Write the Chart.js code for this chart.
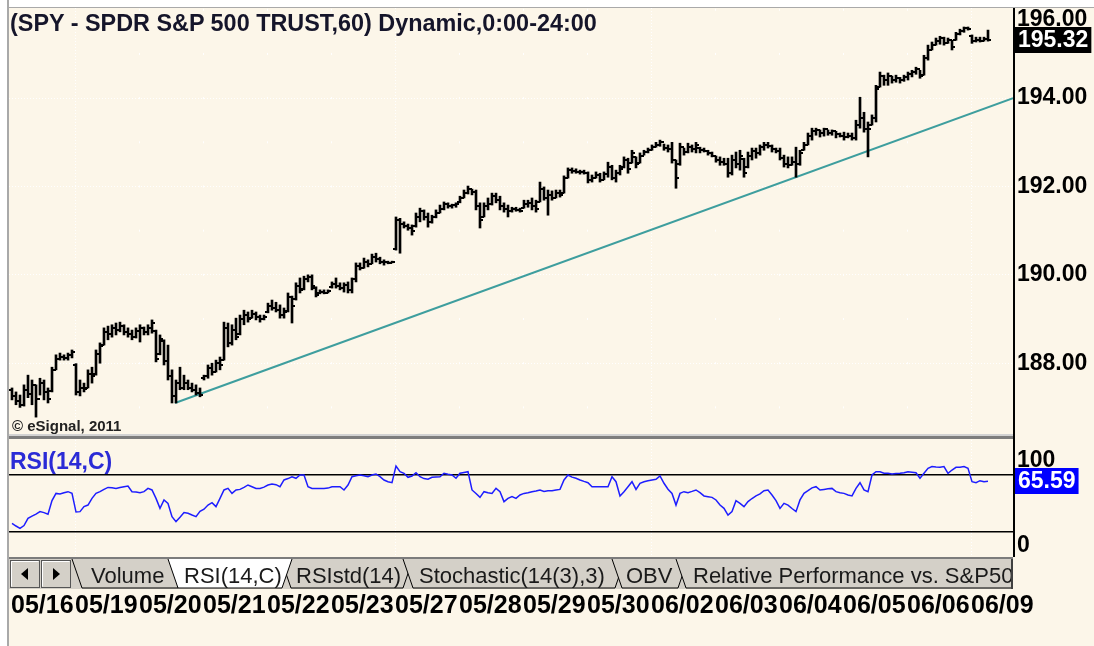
<!DOCTYPE html>
<html>
<head>
<meta charset="utf-8">
<title>SPY 60 min with RSI</title>
<script src="https://cdn.jsdelivr.net/npm/chart.js"></script>
<style>
	html, body { margin: 0; padding: 0; }
	body { width: 1094px; height: 646px; position: relative; overflow: hidden; background: #fcf6e9;
		font-family: "Liberation Sans", Arial, sans-serif; }
	canvas { position: absolute; left: 0; }
	#priceChart { top: 0; }
	#rsiChart { top: 440px; }
	.topBand { position: absolute; left: 0; top: 0; width: 1094px; height: 7px; background: #fff; border-bottom: 1px solid #a9a9a9; }
	.leftEdge { position: absolute; left: 0; top: 0; width: 7px; height: 646px; background: #fff; border-right: 2px solid #a9a9a9; }
	.axisLine { position: absolute; left: 1013px; top: 8px; width: 2px; height: 549px; background: #000; }
	.paneSplit { position: absolute; left: 9px; top: 434px; width: 1004px; height: 2px; background: #d2d2d2; border-bottom: 3px solid #7d7d7d; }
	.title { position: absolute; left: 10px; top: 11px; line-height: 24px; font-size: 23.4px; font-weight: bold; color: #15152a; white-space: nowrap; }
	.studyName { position: absolute; left: 10px; top: 449px; line-height: 24px; font-size: 23px; font-weight: bold; color: #2b2bd6; }
	.copyright { position: absolute; left: 12px; top: 418px; line-height: 16px; font-size: 15px; font-weight: bold; color: #222; }
	.tabs { position: absolute; left: 0; top: 557px; }
</style>
</head>
<body>
<canvas id="priceChart" width="1094" height="440"></canvas>
<canvas id="rsiChart" width="1094" height="206"></canvas>

<div class="topBand"></div>
<div class="leftEdge"></div>
<div class="paneSplit"></div>
<div class="axisLine"></div>
<div class="title">(SPY - SPDR S&amp;P 500 TRUST,60) Dynamic,0:00-24:00</div>
<div class="copyright">© eSignal, 2011</div>
<div class="studyName">RSI(14,C)</div>

<svg class="tabs" width="1016" height="36" viewBox="0 0 1016 36">
	<defs><clipPath id="stripClip"><rect x="9" y="0" width="1003" height="36"/></clipPath></defs>
	<rect x="9" y="0" width="1004" height="2" fill="#7c7c7c"/>
	<rect x="9" y="2" width="1004" height="30" fill="#d4d0c8"/>
	<!-- scroll buttons -->
	<rect x="10.5" y="3.5" width="29" height="27" fill="#d4d0c8" stroke="#555"/>
	<path d="M11.5 29.5 V4.5 H38.5" stroke="#fff" fill="none"/>
	<polygon points="21,17 28,11 28,23" fill="#000"/>
	<rect x="41.5" y="3.5" width="29" height="27" fill="#d4d0c8" stroke="#555"/>
	<path d="M42.5 29.5 V4.5 H69.5" stroke="#fff" fill="none"/>
	<polygon points="60,17 53,11 53,23" fill="#000"/>
	<g id="tabGroup" clip-path="url(#stripClip)" font-family="Liberation Sans, Arial, sans-serif" font-size="22" fill="#1a1a1a"></g>
	<rect x="1011" y="2" width="2" height="30" fill="#404040"/>
</svg>

<script>
// ---------- data (60 min bars, 16 per session) ---------- //
const dayLabels = ["05/16", "05/19", "05/20", "05/21", "05/22", "05/23", "05/27", "05/28",
	"05/29", "05/30", "06/02", "06/03", "06/04", "06/05", "06/06", "06/09"];
const dayStart = [0, 16, 32, 48, 64, 80, 96, 112, 128, 144, 160, 176, 192, 208, 224, 240];
const weekStarts = [16, 96, 160, 240];

const opens = [
	187.40, 187.25, 187.15, 187.05, 187.40, 187.30, 187.50, 187.20, 187.55, 187.35, 187.38, 187.85, 188.10, 188.15, 188.12, 188.18,
	187.95, 187.35, 187.45, 187.45, 187.75, 187.75, 188.20, 188.42, 188.70, 188.65, 188.80, 188.75, 188.85, 188.70, 188.65, 188.60,
	188.72, 188.80, 188.70, 188.80, 188.72, 188.20, 188.50, 188.05, 187.70, 187.25, 187.55, 187.45, 187.55, 187.45, 187.40, 187.32,
	187.66, 187.70, 187.90, 187.80, 188.00, 188.08, 188.80, 188.45, 188.75, 188.65, 189.00, 189.10, 189.03, 189.12, 189.05, 189.00,
	189.15, 189.30, 189.25, 189.20, 189.10, 189.18, 189.50, 189.45, 189.75, 189.68, 189.90, 189.95, 189.70, 189.58, 189.62, 189.60,
	189.72, 189.80, 189.75, 189.70, 189.78, 189.65, 189.90, 190.20, 190.15, 190.30, 190.25, 190.40, 190.35, 190.30, 190.28, 190.27,
	190.58, 191.25, 191.15, 191.10, 191.05, 191.10, 191.30, 191.45, 191.30, 191.20, 191.30, 191.40, 191.50, 191.60, 191.55, 191.58,
	191.65, 191.75, 191.85, 191.95, 191.88, 191.55, 191.32, 191.55, 191.60, 191.78, 191.70, 191.55, 191.48, 191.45, 191.50, 191.47,
	191.52, 191.60, 191.62, 191.55, 191.66, 191.95, 191.75, 191.80, 191.75, 191.85, 191.86, 192.20, 192.38, 192.35, 192.33, 192.32,
	192.30, 192.15, 192.20, 192.25, 192.15, 192.28, 192.45, 192.20, 192.30, 192.43, 192.60, 192.54, 192.66, 192.54, 192.70, 192.78,
	192.82, 192.90, 192.95, 193.00, 192.88, 192.85, 192.60, 192.50, 192.90, 192.78, 192.90, 192.85, 192.88, 192.82, 192.80, 192.75,
	192.68, 192.60, 192.55, 192.52, 192.30, 192.60, 192.50, 192.62, 192.43, 192.70, 192.80, 192.75, 192.90, 192.95, 192.92, 192.85,
	192.80, 192.65, 192.50, 192.48, 192.55, 192.50, 192.83, 192.95, 193.15, 193.25, 193.28, 193.20, 193.30, 193.22, 193.25, 193.18,
	193.15, 193.12, 193.15, 193.10, 193.40, 193.55, 193.30, 193.40, 193.55, 194.26, 194.50, 194.40, 194.50, 194.42, 194.45, 194.40,
	194.48, 194.55, 194.60, 194.65, 194.53, 194.90, 195.10, 195.20, 195.30, 195.35, 195.25, 195.32, 195.32, 195.45, 195.52, 195.58,
	195.40, 195.30, 195.32, 195.30, 195.33
];
const highs = [
	187.44, 187.35, 187.28, 187.51, 187.73, 187.62, 187.51, 187.66, 187.62, 187.44, 187.91, 188.19, 188.23, 188.19, 188.23, 188.30,
	187.99, 187.62, 187.55, 187.85, 187.91, 188.30, 188.46, 188.80, 188.84, 188.87, 188.91, 188.93, 188.87, 188.80, 188.75, 188.80,
	188.87, 188.82, 188.87, 188.98, 188.75, 188.64, 188.53, 188.41, 187.85, 187.62, 187.91, 187.73, 187.62, 187.55, 187.51, 187.44,
	187.73, 187.96, 188.00, 188.07, 188.14, 188.93, 188.91, 188.87, 189.02, 189.09, 189.20, 189.16, 189.20, 189.16, 189.09, 189.09,
	189.36, 189.43, 189.38, 189.32, 189.25, 189.59, 189.52, 189.82, 189.93, 189.97, 190.00, 190.00, 189.73, 189.66, 189.66, 189.66,
	189.84, 189.93, 189.82, 189.82, 189.84, 189.93, 190.27, 190.27, 190.38, 190.34, 190.47, 190.49, 190.40, 190.34, 190.31, 190.31,
	191.31, 191.28, 191.20, 191.15, 191.13, 191.40, 191.51, 191.47, 191.40, 191.35, 191.47, 191.58, 191.65, 191.63, 191.60, 191.63,
	191.78, 191.92, 192.01, 191.94, 191.92, 191.63, 191.63, 191.74, 191.85, 191.85, 191.78, 191.63, 191.58, 191.53, 191.53, 191.51,
	191.69, 191.69, 191.74, 191.69, 192.10, 191.99, 191.92, 191.90, 191.92, 191.92, 192.24, 192.42, 192.42, 192.40, 192.37, 192.37,
	192.33, 192.26, 192.33, 192.30, 192.33, 192.55, 192.48, 192.37, 192.48, 192.67, 192.64, 192.82, 192.67, 192.76, 192.82, 192.87,
	192.94, 193.00, 193.05, 192.96, 192.94, 193.00, 192.60, 192.98, 192.87, 192.98, 192.94, 193.00, 192.89, 192.87, 192.82, 192.78,
	192.69, 192.67, 192.64, 192.64, 192.71, 192.78, 192.82, 192.64, 192.78, 192.87, 192.87, 192.94, 193.00, 193.00, 192.94, 192.87,
	192.87, 192.71, 192.67, 192.67, 192.89, 192.82, 193.00, 193.21, 193.32, 193.32, 193.28, 193.32, 193.28, 193.28, 193.25, 193.21,
	193.23, 193.21, 193.21, 193.50, 194.02, 193.68, 193.46, 193.62, 194.29, 194.59, 194.52, 194.57, 194.50, 194.52, 194.47, 194.52,
	194.59, 194.63, 194.70, 194.63, 194.97, 195.20, 195.27, 195.36, 195.40, 195.38, 195.36, 195.31, 195.49, 195.56, 195.61, 195.61,
	195.43, 195.38, 195.38, 195.38, 195.54
];
const lows = [
	187.17, 187.06, 187.00, 187.03, 187.22, 187.06, 186.78, 187.28, 187.17, 187.10, 187.35, 187.85, 188.07, 188.07, 188.07, 188.12,
	187.28, 187.26, 187.35, 187.44, 187.55, 187.73, 188.00, 188.41, 188.53, 188.59, 188.64, 188.71, 188.64, 188.59, 188.53, 188.57,
	188.48, 188.64, 188.64, 188.68, 188.03, 188.19, 187.96, 187.62, 187.10, 187.10, 187.40, 187.40, 187.40, 187.35, 187.28, 187.24,
	187.62, 187.66, 187.73, 187.80, 187.85, 188.07, 188.37, 188.41, 188.53, 188.64, 188.87, 188.93, 189.02, 188.98, 188.93, 188.98,
	189.14, 189.20, 189.16, 189.02, 189.02, 189.16, 188.91, 189.43, 189.59, 189.66, 189.84, 189.66, 189.50, 189.57, 189.57, 189.59,
	189.70, 189.70, 189.66, 189.61, 189.59, 189.59, 189.84, 190.11, 190.15, 190.18, 190.25, 190.29, 190.25, 190.22, 190.25, 190.27,
	190.56, 190.49, 191.06, 191.01, 190.90, 191.08, 191.20, 191.24, 191.08, 191.17, 191.29, 191.40, 191.47, 191.51, 191.51, 191.53,
	191.63, 191.74, 191.83, 191.81, 191.47, 191.06, 191.31, 191.47, 191.58, 191.63, 191.47, 191.42, 191.31, 191.42, 191.44, 191.42,
	191.51, 191.53, 191.47, 191.42, 191.65, 191.69, 191.35, 191.69, 191.74, 191.76, 191.85, 192.19, 192.30, 192.30, 192.28, 192.28,
	192.08, 192.10, 192.19, 192.10, 192.15, 192.21, 192.15, 192.10, 192.26, 192.42, 192.30, 192.53, 192.42, 192.53, 192.71, 192.76,
	192.82, 192.89, 192.91, 192.82, 192.78, 192.53, 191.96, 192.48, 192.71, 192.76, 192.78, 192.76, 192.76, 192.78, 192.71, 192.67,
	192.55, 192.48, 192.48, 192.21, 192.26, 192.42, 192.37, 192.21, 192.42, 192.60, 192.64, 192.71, 192.82, 192.87, 192.78, 192.76,
	192.60, 192.44, 192.42, 192.48, 192.21, 192.48, 192.82, 192.94, 193.05, 193.16, 193.12, 193.14, 193.16, 193.16, 193.10, 193.12,
	193.05, 193.10, 193.05, 193.05, 193.32, 193.23, 192.67, 193.39, 193.46, 194.25, 194.29, 194.29, 194.34, 194.36, 194.34, 194.38,
	194.41, 194.48, 194.54, 194.45, 194.52, 194.86, 195.09, 195.20, 195.22, 195.20, 195.24, 195.09, 195.31, 195.43, 195.49, 195.54,
	195.24, 195.27, 195.27, 195.29, 195.29
];
const closes = [
	187.25, 187.15, 187.05, 187.40, 187.30, 187.50, 187.20, 187.55, 187.35, 187.20, 187.85, 188.10, 188.15, 188.12, 188.18, 188.25,
	187.35, 187.45, 187.42, 187.75, 187.70, 188.20, 188.40, 188.70, 188.65, 188.80, 188.75, 188.85, 188.70, 188.65, 188.60, 188.72,
	188.80, 188.70, 188.80, 188.90, 188.10, 188.55, 188.05, 187.70, 187.25, 187.55, 187.45, 187.55, 187.45, 187.40, 187.32, 187.28,
	187.70, 187.90, 187.80, 188.00, 187.95, 188.80, 188.45, 188.75, 188.60, 189.00, 189.10, 189.00, 189.12, 189.05, 189.00, 189.05,
	189.30, 189.25, 189.20, 189.10, 189.15, 189.50, 189.30, 189.75, 189.65, 189.90, 189.95, 189.75, 189.55, 189.62, 189.60, 189.63,
	189.80, 189.75, 189.70, 189.78, 189.65, 189.90, 190.20, 190.15, 190.30, 190.25, 190.40, 190.35, 190.30, 190.28, 190.27, 190.29,
	191.25, 191.15, 191.10, 191.05, 191.00, 191.30, 191.45, 191.30, 191.20, 191.30, 191.40, 191.50, 191.60, 191.55, 191.58, 191.60,
	191.75, 191.85, 191.95, 191.88, 191.55, 191.25, 191.55, 191.60, 191.78, 191.70, 191.55, 191.48, 191.45, 191.50, 191.47, 191.45,
	191.60, 191.62, 191.55, 191.50, 191.95, 191.75, 191.80, 191.75, 191.85, 191.80, 192.20, 192.38, 192.35, 192.33, 192.32, 192.30,
	192.15, 192.20, 192.25, 192.15, 192.28, 192.45, 192.20, 192.30, 192.40, 192.60, 192.40, 192.75, 192.50, 192.70, 192.78, 192.82,
	192.90, 192.95, 193.00, 192.88, 192.85, 192.60, 192.20, 192.90, 192.78, 192.90, 192.85, 192.95, 192.82, 192.80, 192.75, 192.70,
	192.60, 192.55, 192.52, 192.30, 192.60, 192.50, 192.70, 192.30, 192.70, 192.80, 192.75, 192.90, 192.95, 192.92, 192.85, 192.80,
	192.65, 192.50, 192.48, 192.55, 192.50, 192.75, 192.95, 193.15, 193.25, 193.28, 193.20, 193.30, 193.22, 193.25, 193.18, 193.15,
	193.12, 193.15, 193.10, 193.40, 193.55, 193.30, 193.30, 193.55, 194.20, 194.50, 194.40, 194.50, 194.42, 194.45, 194.40, 194.48,
	194.55, 194.60, 194.65, 194.50, 194.90, 195.10, 195.20, 195.30, 195.35, 195.25, 195.32, 195.15, 195.45, 195.52, 195.58, 195.57,
	195.30, 195.32, 195.30, 195.33, 195.32
];
const rsi = [
	36.1, 34.2, 32.6, 34.5, 39.6, 41.2, 42.6, 44.3, 43.6, 42.5, 52.0, 57.1, 56.7, 57.6, 58.3, 57.1,
	44.0, 44.3, 47.8, 48.9, 53.6, 57.1, 58.3, 59.9, 61.3, 61.0, 60.6, 61.2, 61.8, 62.3, 58.3, 58.0,
	57.6, 58.3, 60.6, 59.5, 53.6, 46.6, 52.5, 50.0, 40.8, 37.3, 40.3, 43.6, 43.1, 41.9, 40.8, 44.5,
	46.0, 48.9, 50.6, 47.8, 53.6, 59.5, 60.6, 57.1, 59.5, 59.9, 61.3, 63.0, 61.8, 60.6, 60.6, 61.5,
	63.0, 63.7, 63.2, 61.8, 66.5, 67.5, 68.8, 67.7, 70.0, 70.0, 61.8, 60.6, 60.6, 60.6, 60.6, 60.8,
	61.8, 61.8, 61.8, 59.5, 63.0, 68.8, 69.5, 70.0, 69.5, 68.8, 70.0, 70.7, 68.8, 66.5, 65.3, 64.6,
	76.3, 72.3, 71.2, 68.4, 69.3, 71.6, 68.8, 67.5, 67.0, 68.4, 68.6, 68.8, 71.2, 70.5, 70.0, 67.7,
	71.2, 71.8, 72.3, 59.5, 57.0, 54.3, 58.3, 57.5, 57.1, 60.6, 58.3, 51.3, 53.6, 54.8, 53.6, 56.0,
	57.1, 57.5, 58.3, 58.8, 59.5, 58.5, 59.0, 59.0, 59.5, 59.9, 66.5, 70.0, 68.5, 67.7, 66.5, 65.5,
	64.6, 61.8, 61.8, 61.8, 61.8, 61.8, 68.8, 65.3, 55.3, 58.3, 61.8, 65.3, 59.9, 64.2, 65.3, 66.0,
	66.5, 67.0, 69.3, 64.2, 60.0, 57.1, 48.9, 57.1, 58.3, 57.6, 58.5, 59.5, 57.6, 55.3, 54.8, 54.3,
	52.5, 48.9, 46.6, 41.9, 44.3, 52.0, 50.1, 47.8, 51.3, 53.5, 55.3, 56.7, 59.0, 59.5, 56.0, 52.0,
	46.6, 50.1, 48.9, 46.5, 44.3, 52.5, 57.1, 59.0, 61.0, 61.8, 59.5, 59.9, 60.3, 60.6, 58.3, 57.6,
	57.1, 56.0, 55.3, 60.6, 64.6, 59.5, 58.3, 70.0, 72.3, 72.3, 71.2, 71.2, 70.7, 71.0, 71.2, 71.6,
	72.3, 72.0, 71.6, 67.7, 71.2, 74.7, 75.9, 75.6, 75.4, 75.9, 71.2, 73.5, 75.4, 75.4, 75.9, 74.7,
	65.3, 64.6, 66.0, 65.3, 65.59
];

// trendline drawn under the lows (bar index, price)
const trendStart = { x: 40.75, y: 187.10 };
const trendEnd = { x: 250.25, y: 194.00 };

const priceTicks = [188, 190, 192, 194, 196];
const rsiBands = [30, 70];
const rsiEdgeTicks = [100, 0];

// visible ranges
const xMin = -0.75, xMax = 250.25;
const priceMin = 186.33, priceMax = 196.04;
const rsiMin = 12.46, rsiMax = 94.56;

const FONT = '"Liberation Sans", Arial, sans-serif';
const CLEAR = 'rgba(0,0,0,0)';

// -------------------- helpers / plugins -------------------- //

/// forces an axis box to a fixed size and drops the label overflow padding
function fixBox(w, h) {
	return (s) => {
		if (w !== null) s.width = w;
		if (h !== null) s.height = h;
		s.paddingLeft = s.paddingRight = s.paddingTop = s.paddingBottom = 0;
	};
}

function dayTicks(s) { s.ticks = dayStart.map(d => ({ value: d - 0.25 })); }
function isWeekTick(ctx) { return ctx.tick && weekStarts.includes(ctx.tick.value + 0.25); }

// dots at every whole dollar on the day separators
function dollarPitch(chart) {
	const ys = chart.scales.y;
	if (!ys || !ys.height) return 44;
	return ys.getPixelForValue(priceMin) - ys.getPixelForValue(priceMin + 1);
}
function dollarDotOffset(ctx) {
	const ys = ctx.chart.scales.y;
	if (!ys || !ys.height) return 0;
	const p = dollarPitch(ctx.chart);
	const first = ys.getPixelForValue(Math.floor(priceMax)) - ys.top - 1;
	return p - (first % p);
}

/// open / close ticks of the hlc bars
const ohlcTicks = {
	id: 'ohlcTicks',
	afterDatasetsDraw(chart) {
		const meta = chart.getDatasetMeta(0);
		const ys = chart.scales.y;
		const c = chart.ctx;
		c.save();
		c.beginPath();
		c.rect(chart.chartArea.left, chart.chartArea.top, chart.chartArea.width, chart.chartArea.height);
		c.clip();
		c.strokeStyle = '#000';
		c.lineWidth = 2;
		c.beginPath();
		meta.data.forEach((bar, i) => {
			const yo = Math.round(ys.getPixelForValue(opens[i]));
			const yc = Math.round(ys.getPixelForValue(closes[i]));
			c.moveTo(bar.x - 3, yo); c.lineTo(bar.x, yo);
			c.moveTo(bar.x, yc); c.lineTo(bar.x + 3, yc);
		});
		c.stroke();
		c.restore();
	}
};

/// scale labels that sit outside the visible range get pinned to the pane edge,
/// and the last value gets a coloured box on the price scale
const axisExtras = {
	id: 'axisExtras',
	afterDraw(chart, args, opts) {
		const ys = chart.scales.y, a = chart.chartArea, c = chart.ctx;
		c.save();
		c.font = 'bold 23px ' + FONT;
		c.textBaseline = 'middle';
		c.textAlign = 'left';
		(opts.edge || []).forEach(l => {
			let y = ys.getPixelForValue(l.value);
			y = Math.min(Math.max(y, a.top + opts.insetTop), a.bottom - opts.insetBottom);
			c.fillStyle = '#000';
			c.fillText(l.text, ys.left + 4, y);
		});
		if (opts.last) {
			const y = Math.round(ys.getPixelForValue(opts.last.value));
			const txt = opts.last.value.toFixed(2);
			const w = c.measureText(txt).width + 6;
			c.fillStyle = opts.last.bg;
			c.fillRect(ys.left + 2, y - 13, w, 26);
			c.fillStyle = opts.last.color;
			c.fillText(txt, ys.left + 5, y + 1);
		}
		c.restore();
	}
};

// -------------------- price pane -------------------- //
const hlBars = highs.map((h, i) => ({ x: i, y: [lows[i], h] }));

new Chart(document.getElementById('priceChart'), {
	type: 'bar',
	data: {
		datasets: [
			{ type: 'bar', label: 'SPY', data: hlBars, backgroundColor: '#000', borderWidth: 0, barThickness: 2, order: 1 },
			{ type: 'line', label: 'trend', data: [trendStart, trendEnd], borderColor: '#3e9e9e', borderWidth: 2, pointRadius: 0, order: 2 }
		]
	},
	options: {
		responsive: false, animation: false, devicePixelRatio: 1,
		layout: { padding: { left: 9, top: 8, right: 0, bottom: 3 } },
		plugins: {
			legend: { display: false }, tooltip: { enabled: false },
			axisExtras: {
				edge: [{ value: 196, text: '196.00' }], insetTop: 12, insetBottom: 12,
				last: { value: closes[closes.length - 1], bg: '#000', color: '#fff' }
			}
		},
		scales: {
			x: {
				type: 'linear', min: xMin, max: xMax, offset: false,
				afterBuildTicks: dayTicks,
				ticks: { display: false },
				grid: { offset: false, drawTicks: false, lineWidth: 1, color: ctx => isWeekTick(ctx) ? '#fff' : CLEAR, borderDash: [1, 2] },
				border: { display: false, dash: [1, 2] },
				afterFit: fixBox(null, 0)
			},
			xd: {
				type: 'linear', position: 'bottom', min: xMin, max: xMax, offset: false,
				afterBuildTicks: dayTicks,
				ticks: { display: false },
				grid: {
					offset: false, drawTicks: false, lineWidth: 1,
					color: ctx => (ctx.tick && !isWeekTick(ctx) && ctx.tick.value > 0) ? '#fff' : CLEAR,
					borderDash: ctx => [2, dollarPitch(ctx.chart) - 2], borderDashOffset: dollarDotOffset
				},
				border: { display: false, dash: ctx => [2, dollarPitch(ctx.chart) - 2], dashOffset: dollarDotOffset },
				afterFit: fixBox(null, 0)
			},
			y: {
				position: 'right', min: priceMin, max: priceMax,
				afterBuildTicks: s => { s.ticks = priceTicks.map(v => ({ value: v })); },
				ticks: {
					font: { family: FONT, size: 23, weight: 'bold' }, color: '#000', padding: 4,
					callback: v => v > priceMax - 0.25 ? '' : v.toFixed(2)
				},
				grid: { drawTicks: false, lineWidth: 1, color: ctx => (ctx.tick && ctx.tick.value > priceMax - 0.25) ? CLEAR : '#fff', borderDash: [1, 2] },
				border: { display: false, dash: [1, 2] },
				afterFit: fixBox(81, null)
			}
		}
	},
	plugins: [ohlcTicks, axisExtras]
});

// -------------------- RSI pane -------------------- //
new Chart(document.getElementById('rsiChart'), {
	type: 'line',
	data: {
		datasets: [{
			label: 'RSI(14,C)', data: rsi.map((v, i) => ({ x: i, y: v })),
			borderColor: '#1d1dff', borderWidth: 1.5, pointRadius: 0, tension: 0
		}]
	},
	options: {
		responsive: false, animation: false, devicePixelRatio: 1,
		layout: { padding: { left: 9, top: 0, right: 0, bottom: 0 } },
		plugins: {
			legend: { display: false }, tooltip: { enabled: false },
			axisExtras: {
				edge: rsiEdgeTicks.map(v => ({ value: v, text: String(v) })), insetTop: 21, insetBottom: 11,
				last: { value: rsi[rsi.length - 1], bg: '#0000ff', color: '#fff' }
			}
		},
		scales: {
			x: {
				type: 'linear', min: xMin, max: xMax, offset: false,
				afterBuildTicks: dayTicks,
				ticks: {
					autoSkip: false, maxRotation: 0, minRotation: 0, align: 'start', padding: 34,
					font: { family: FONT, size: 25, weight: 'bold' }, color: '#000',
					callback: (v, idx) => dayLabels[idx]
				},
				grid: { offset: false, drawTicks: false, lineWidth: 1, color: ctx => isWeekTick(ctx) ? '#fff' : CLEAR, borderDash: [1, 2] },
				border: { display: false, dash: [1, 2] },
				afterFit: fixBox(null, 89)
			},
			y: {
				position: 'right', min: rsiMin, max: rsiMax,
				afterBuildTicks: s => { s.ticks = rsiBands.map(v => ({ value: v })); },
				ticks: { display: false },
				grid: { drawTicks: false, color: '#000', lineWidth: 1.5 },
				border: { display: false },
				afterFit: fixBox(81, null)
			}
		}
	},
	plugins: [axisExtras]
});

// -------------------- study tabs -------------------- //
const tabNames = ["Volume", "RSI(14,C)", "RSIstd(14)", "Stochastic(14(3),3)", "OBV", "Relative Performance vs. S&P500"];
const tabLeft = [72, 168, 281, 403, 612, 676];
const tabRight = [188, 292, 413, 625, 688, 1040];
const tabTextX = [91, 184, 296, 419, 626, 693];
const activeTab = 1;

function tabsBuildSvg() {
	const g = document.getElementById('tabGroup');
	const ns = 'http://www.w3.org/2000/svg';
	const order = tabNames.map((_, i) => i).filter(i => i !== activeTab).concat([activeTab]);
	order.forEach(i => {
		const xl = tabLeft[i], xr = tabRight[i];
		const poly = document.createElementNS(ns, 'polygon');
		poly.setAttribute('points', `${xl},2 ${xr},2 ${xr - 10},31 ${xl + 10},31`);
		poly.setAttribute('fill', i === activeTab ? '#ffffff' : '#d4d0c8');
		g.appendChild(poly);
		const edge = document.createElementNS(ns, 'polyline');
		edge.setAttribute('points', `${xl},2 ${xl + 10},31 ${xr - 10},31 ${xr},2`);
		edge.setAttribute('fill', 'none');
		edge.setAttribute('stroke', '#000');
		edge.setAttribute('stroke-width', '1');
		g.appendChild(edge);
		const t = document.createElementNS(ns, 'text');
		t.setAttribute('x', tabTextX[i]);
		t.setAttribute('y', 26);
		t.textContent = tabNames[i];
		g.appendChild(t);
	});
}
tabsBuildSvg();
</script>
</body>
</html>
